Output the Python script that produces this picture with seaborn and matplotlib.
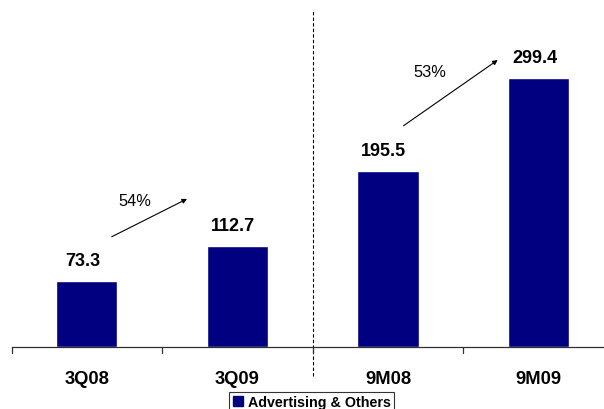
import matplotlib
matplotlib.use("Agg")
import matplotlib.pyplot as plt
import seaborn as sns
import pandas as pd
from matplotlib.patches import Patch

# Revenue figures
periods = ["3Q08", "3Q09", "9M08", "9M09"]
revenue = [73.3, 112.7, 195.5, 299.4]
growth_labels = ["54%", "53%"]
series_name = "Advertising & Others"

sns.set_theme(style="white")
plt.rcParams["font.family"] = ["Liberation Sans", "DejaVu Sans"]
plt.rcParams["text.color"] = "black"
plt.rcParams["xtick.color"] = "black"
plt.rcParams["xtick.labelcolor"] = "black"

navy = "#000080"
df = pd.DataFrame({"period": periods, "revenue": revenue})

W, H = 604, 410
fig = plt.figure(figsize=(W / 100, H / 100), dpi=100)
ax = fig.add_axes([11.6 / W, (H - 348.3) / H, (W - 11.6) / W, 336.3 / H])

sns.barplot(data=df, x="period", y="revenue", color=navy, width=0.406,
            saturation=1, ax=ax)

ax.set_xlim(-0.5, 3.434)
ax.set_ylim(0, 373.9)

# value labels above bars
for i, v in enumerate(revenue):
    ax.annotate(f"{v:.1f}", xy=(i, v), xytext=(-3, 15), textcoords="offset points",
                ha="center", va="center", fontsize=13, fontweight="bold",
                color="black")

# growth arrows
ax.annotate("", xy=(0.665, 165.0), xytext=(0.165, 122.9),
            arrowprops=dict(arrowstyle="-|>", color="black", lw=0.8,
                            mutation_scale=7, shrinkA=0, shrinkB=0))
ax.text(0.319, 163.7, growth_labels[0], ha="center", va="center", fontsize=11.8)
ax.annotate("", xy=(2.728, 319.4), xytext=(2.103, 246.4),
            arrowprops=dict(arrowstyle="-|>", color="black", lw=0.8,
                            mutation_scale=7, shrinkA=0, shrinkB=0))
ax.text(2.278, 307.1, growth_labels[1], ha="center", va="center", fontsize=11.8)

# divider between quarter and nine-month figures
ax.plot([1.5, 1.5], [-32, 373.9], color="black", lw=0.8, ls=(0, (3, 2)),
        clip_on=False)

# axes styling
for s in ["left", "right", "top"]:
    ax.spines[s].set_visible(False)
ax.spines["bottom"].set_color("#303030")
ax.spines["bottom"].set_linewidth(0.9)
ax.set_yticks([])
ax.set_xlabel("")
ax.set_ylabel("")
ax.set_xticks(range(len(periods)))
ax.set_xticklabels(periods, fontsize=13.2, fontweight="bold", color="black")
ax.tick_params(axis="x", length=0, pad=16)
for b in [-0.5, 0.5, 1.5, 2.5]:
    ax.plot([b, b], [0, -6.5], color="#303030", lw=0.9, clip_on=False)

leg = fig.legend(handles=[Patch(facecolor=navy, edgecolor=navy, label=series_name)],
                 loc="upper center", bbox_to_anchor=(311.5 / W, (H - 392.5) / H),
                 frameon=True, fancybox=False,
                 prop={"weight": "bold", "size": 10.3},
                 handlelength=0.75, handleheight=0.75, handletextpad=0.3,
                 borderpad=0.25, borderaxespad=0)
leg.get_frame().set_edgecolor("black")
leg.get_frame().set_linewidth(0.8)

fig.savefig("out.png", dpi=100)
